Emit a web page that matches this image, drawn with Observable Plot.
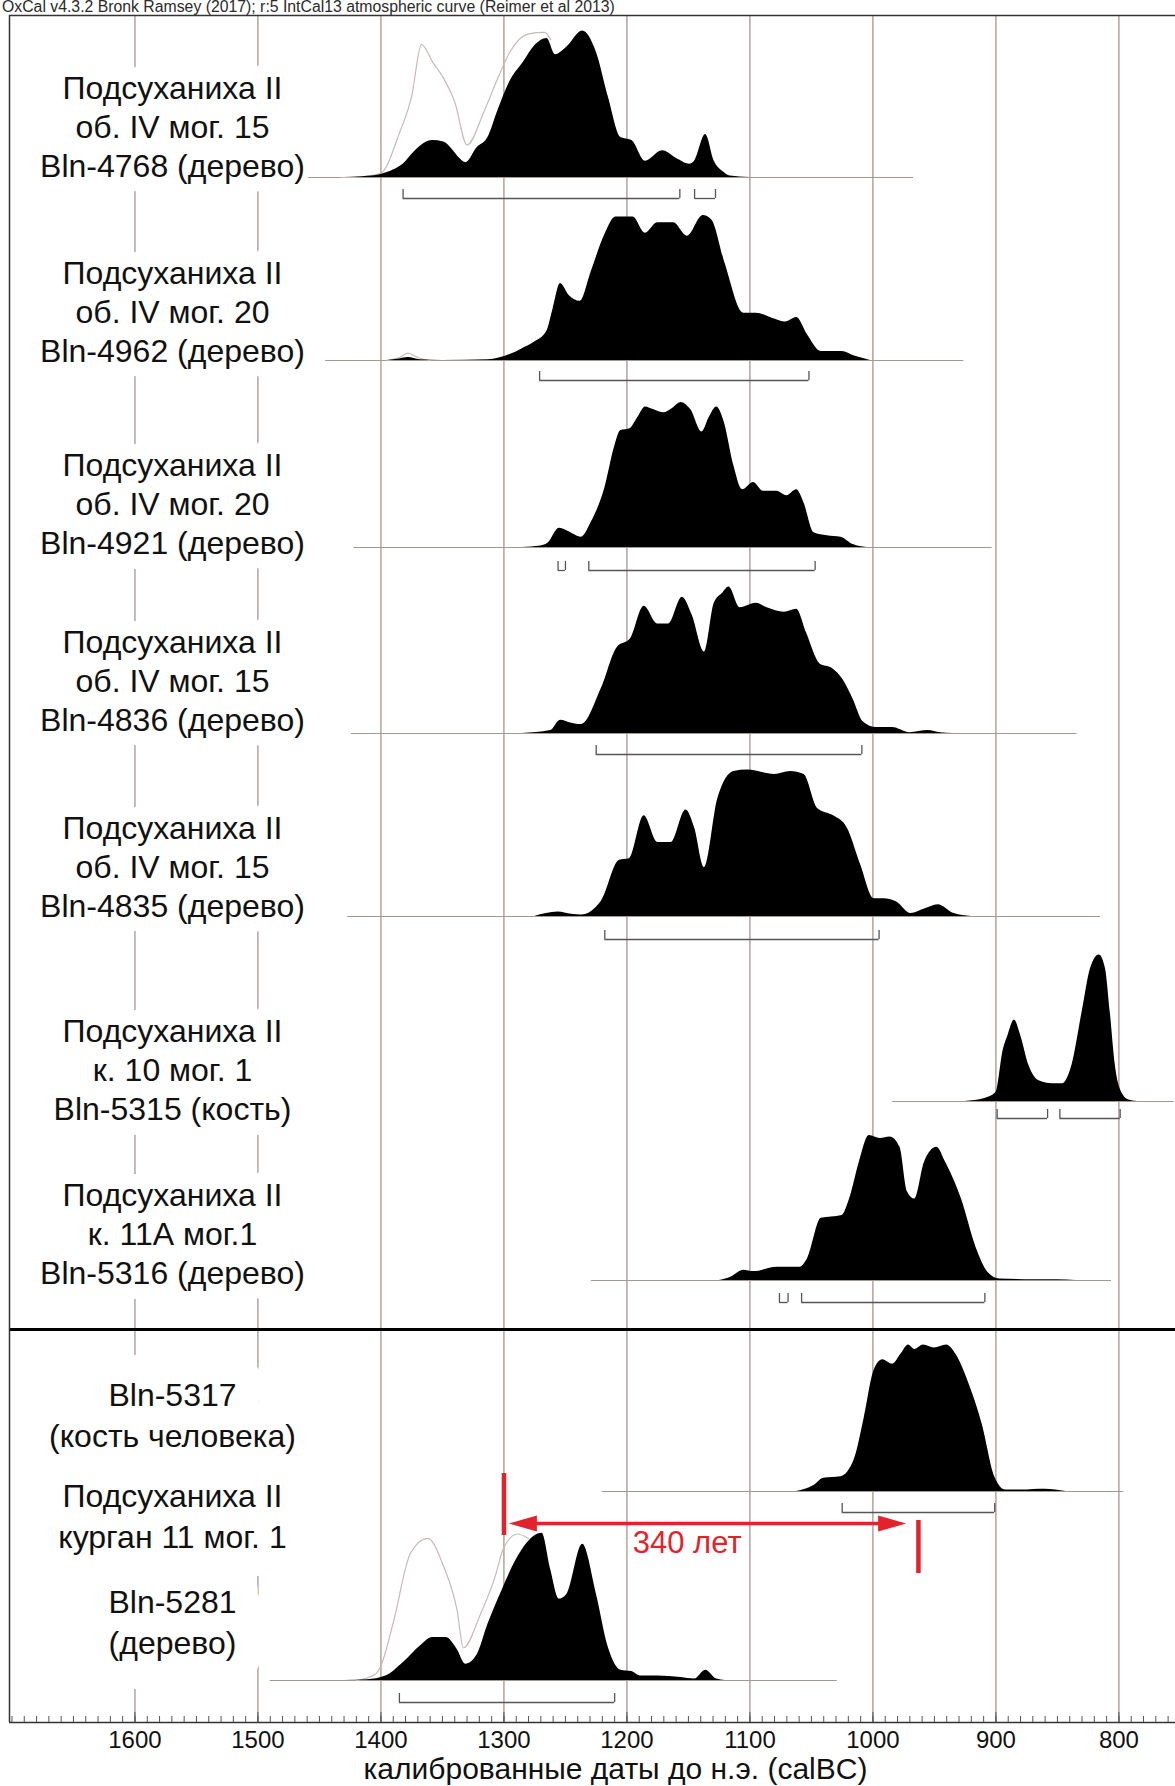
<!DOCTYPE html>
<html><head><meta charset="utf-8">
<script src="https://cdn.jsdelivr.net/npm/d3@7"></script>
<script src="https://cdn.jsdelivr.net/npm/@observablehq/plot@0.6"></script>
<style>
body{margin:0;background:#fff;font-family:"Liberation Sans",Arial,sans-serif;}
#hdr{height:14px;font-size:15.8px;line-height:13px;color:#2a2a2a;padding-left:2px;white-space:nowrap;overflow:visible;}
#chart svg{display:block;}
</style></head><body>
<div id="hdr">OxCal v4.3.2 Bronk Ramsey (2017); r:5 IntCal13 atmospheric curve (Reimer et al 2013)</div>
<div id="chart"></div>
<script>
// ---------- data (years BC, relative probability 0..1) ----------
const sampleIds = ["Bln-4768","Bln-4962","Bln-4921","Bln-4836","Bln-4835","Bln-5315","Bln-5316","Bln-5317","Bln-5281"];

const bln4768 = [[1430,0],[1415,0.005],[1400,0.02],[1390,0.05],[1382,0.09],[1372,0.18],[1365,0.23],[1358,0.25],[1349,0.24],[1342,0.19],[1336,0.13],[1331,0.10],[1322,0.20],[1313,0.27],[1305,0.45],[1295,0.65],[1284,0.78],[1275,0.89],[1265,0.94],[1258,0.83],[1249,0.88],[1236,0.99],[1225,0.85],[1215,0.54],[1205,0.27],[1196,0.25],[1185,0.11],[1171,0.18],[1160,0.13],[1149,0.09],[1145,0.11],[1136,0.29],[1129,0.11],[1122,0.04],[1116,0.01],[1100,0]];
const bln4768Unmod = [[1432,0],[1415,0.005],[1400,0.03],[1385,0.3],[1375,0.55],[1367,0.9],[1358,0.78],[1349,0.67],[1340,0.51],[1330,0.22],[1316,0.45],[1305,0.67],[1295,0.85],[1280,0.97],[1267,0.98],[1262,0.93]];
const bln4962 = [[1395,0],[1385,0.01],[1378,0.02],[1368,0.005],[1350,0],[1313,0.005],[1295,0.04],[1285,0.08],[1276,0.12],[1265,0.2],[1260,0.35],[1254,0.52],[1247,0.44],[1238,0.40],[1229,0.6],[1218,0.85],[1209,0.97],[1195,0.97],[1185,0.86],[1175,0.93],[1162,0.93],[1151,0.84],[1138,0.98],[1131,0.95],[1120,0.65],[1105,0.32],[1095,0.32],[1080,0.28],[1071,0.26],[1062,0.29],[1053,0.17],[1042,0.06],[1025,0.06],[1015,0.03],[1002,0]];
const bln4962Unmod = [[1395,0],[1385,0.02],[1378,0.05],[1370,0.02],[1360,0]];
const bln4921 = [[1285,0],[1270,0.01],[1264,0.03],[1255,0.13],[1248,0.11],[1237,0.07],[1229,0.17],[1218,0.40],[1210,0.68],[1205,0.79],[1198,0.80],[1191,0.88],[1185,0.95],[1178,0.93],[1170,0.91],[1163,0.94],[1156,0.98],[1148,0.93],[1139,0.78],[1133,0.88],[1127,0.95],[1121,0.85],[1113,0.55],[1106,0.39],[1097,0.44],[1089,0.38],[1078,0.38],[1070,0.35],[1062,0.39],[1056,0.30],[1048,0.10],[1037,0.08],[1026,0.07],[1016,0.02],[1005,0]];
const bln4836 = [[1285,0],[1262,0.02],[1254,0.09],[1245,0.07],[1237,0.06],[1221,0.30],[1208,0.58],[1197,0.64],[1186,0.86],[1175,0.74],[1166,0.74],[1155,0.92],[1147,0.80],[1137,0.55],[1129,0.88],[1122,0.95],[1117,0.99],[1108,0.85],[1095,0.88],[1086,0.85],[1072,0.82],[1062,0.84],[1054,0.68],[1043,0.47],[1033,0.44],[1024,0.36],[1016,0.23],[1008,0.08],[997,0.04],[984,0.04],[970,0.005],[955,0.02],[945,0.005],[935,0]];
const bln4835 = [[1275,0],[1256,0.03],[1245,0.015],[1237,0.01],[1221,0.10],[1206,0.38],[1198,0.39],[1186,0.68],[1175,0.50],[1164,0.50],[1152,0.72],[1145,0.60],[1137,0.33],[1126,0.80],[1113,0.98],[1102,0.99],[1080,0.96],[1067,0.98],[1056,0.96],[1045,0.73],[1032,0.68],[1021,0.60],[1010,0.35],[999,0.12],[991,0.12],[981,0.10],[969,0.02],[958,0.05],[947,0.08],[934,0.02],[920,0]];
const bln5315 = [[925,0],[909,0.02],[900,0.06],[894,0.35],[890,0.45],[885,0.55],[880,0.45],[873,0.24],[865,0.14],[854,0.12],[846,0.12],[838,0.25],[830,0.60],[823,0.90],[816,0.99],[811,0.90],[807,0.60],[803,0.25],[797,0.05],[792,0.01],[785,0]];
const bln5316 = [[1125,0],[1116,0.02],[1105,0.07],[1097,0.06],[1078,0.09],[1059,0.09],[1053,0.15],[1042,0.42],[1025,0.44],[1019,0.55],[1011,0.80],[1003,0.98],[994,0.96],[986,0.97],[978,0.9],[972,0.6],[966,0.55],[958,0.80],[948,0.90],[941,0.80],[928,0.55],[916,0.22],[906,0.05],[897,0.01],[870,0.005],[850,0.005],[835,0]];
const bln5317 = [[1062,0],[1048,0.04],[1040,0.09],[1026,0.10],[1015,0.22],[1007,0.50],[999,0.82],[992,0.89],[984,0.86],[977,0.93],[971,0.99],[966,0.96],[959,0.99],[950,0.97],[940,0.99],[932,0.92],[922,0.73],[911,0.45],[901,0.10],[892,0.01],[879,0.01],[860,0.015],[843,0]];
const bln5281 = [[1430,0],[1411,0.005],[1396,0.03],[1382,0.12],[1367,0.24],[1358,0.29],[1347,0.29],[1338,0.21],[1331,0.11],[1322,0.17],[1313,0.38],[1302,0.60],[1291,0.80],[1280,0.94],[1269,0.995],[1262,0.75],[1255,0.55],[1249,0.58],[1236,0.92],[1225,0.59],[1215,0.22],[1205,0.07],[1196,0.06],[1189,0.03],[1175,0.03],[1156,0.02],[1145,0.01],[1136,0.07],[1127,0.01],[1120,0]];
const bln5281Unmod = [[1420,0],[1405,0.04],[1400,0.1],[1390,0.39],[1376,0.86],[1362,0.96],[1349,0.77],[1338,0.47],[1333,0.22],[1319,0.45],[1308,0.68],[1300,0.9],[1289,0.99],[1280,0.96]];

// 95.4% ranges (from, to) per sample
const ranges = [
  [[1382,1157],[1145,1128]],
  [[1271,1052]],
  [[1256,1250],[1231,1047]],
  [[1225,1009]],
  [[1218,995]],
  [[899,858],[848,799]],
  [[1076,1069],[1058,909]],
  [[1025,901]],
  [[1385,1210]]
];
// extent of each plotted row (years)
const rowExtent = [[1459,967],[1445,926],[1422,903],[1424,834],[1427,815],[984,755],[1229,806],[1220,796],[1490,1029]];

const labelTexts = [
  "Подсуханиха II\nоб. IV мог. 15\nBln-4768 (дерево)",
  "Подсуханиха II\nоб. IV мог. 20\nBln-4962 (дерево)",
  "Подсуханиха II\nоб. IV мог. 20\nBln-4921 (дерево)",
  "Подсуханиха II\nоб. IV мог. 15\nBln-4836 (дерево)",
  "Подсуханиха II\nоб. IV мог. 15\nBln-4835 (дерево)",
  "Подсуханиха II\nк. 10 мог. 1\nBln-5315 (кость)",
  "Подсуханиха II\nк. 11А мог.1\nBln-5316 (дерево)"
];
const lowerTexts = ["Bln-5317\n(кость человека)", "Подсуханиха II\nкурган 11 мог. 1", "Bln-5281\n(дерево)"];

const gridYears = d3.range(1600, 799, -100);
const labelYears = d3.range(800, 1601, 100);
const minorYears = d3.range(760, 1701, 10);
const span = {from: 1300, to: 963, tipFrom: 1296, tipTo: 973, mid: 1151, text: "340 лет"};
const xTitle = "калиброванные даты до н.э. (calBC)";

// ---------- layout (pixels) ----------
const peak = 148;
const baseV = [162,345,532,718,901,1086,1265,1476,1665];
const bracketOff = [21,20,23,21,23,17,22,21,22];
const labelV = [110,295,487,664,850,1053,1217];
const lowerV = [1398,1499,1605];
const sepV = 1314;
const red = "#e3232b";

const dens = [bln4768,bln4962,bln4921,bln4836,bln4835,bln5315,bln5316,bln5317,bln5281];
const areaData = dens.flatMap((arr,i) => arr.map(([year,p]) => ({row:i, year, p})));
const unmod = [[0,bln4768Unmod],[1,bln4962Unmod],[8,bln5281Unmod]];
const unmodData = unmod.flatMap(([i,arr]) => arr.map(([year,p]) => ({row:i, year, p})));
const extentData = rowExtent.map(([a,b],i) => ({row:i, a, b}));
const rangeData = ranges.flatMap((rs,i) => rs.map(([a,b]) => ({row:i, a, b})));
const rangeEnds = rangeData.flatMap(d => [{row:d.row, year:d.a}, {row:d.row, year:d.b}]);
const labelData = labelTexts.map((t,i) => ({t, v: labelV[i]}));
const lowerData = lowerTexts.map((t,i) => ({t, v: lowerV[i]}));

const leftHead = {draw(ctx){ ctx.moveTo(0,0); ctx.lineTo(28,-8); ctx.lineTo(28,8); ctx.closePath(); }};
const rightHead = {draw(ctx){ ctx.moveTo(0,0); ctx.lineTo(-28,-8); ctx.lineTo(-28,8); ctx.closePath(); }};
const arrowV = 1508;

const labelBase = {frameAnchor: "left", dx: 163, y: "v", text: "t", fontSize: 32, textAnchor: "middle"};

const plot = Plot.plot({
  width: 1175, height: 1772,
  marginTop: 1, marginBottom: 64, marginLeft: 9, marginRight: 0,
  style: {fontFamily: "'Liberation Sans', Arial, sans-serif", background: "white", color: "#111"},
  x: {domain: [1702, 754], range: [9, 1175], label: null},
  y: {domain: [0, 1707], range: [1, 1708], axis: null},
  marks: [
    Plot.ruleX(gridYears, {stroke: "#86776f", strokeWidth: 1}),
    // white backing behind the labels (covers the grid lines), then the labels themselves
    Plot.text(labelData, {...labelBase, lineHeight: 1.21, fill: "white", stroke: "white", strokeWidth: 30, strokeLinejoin: "round"}),
    Plot.text(lowerData, {...labelBase, lineHeight: 1.26, fill: "white", stroke: "white", strokeWidth: 56, strokeLinejoin: "round"}),
    Plot.text(labelData, {...labelBase, lineHeight: 1.21, fill: "#111"}),
    Plot.text(lowerData, {...labelBase, lineHeight: 1.26, fill: "#111"}),
    Plot.ruleY(extentData, {y: d => baseV[d.row], x1: "a", x2: "b", stroke: "#a49893", strokeWidth: 1}),
    Plot.line(unmodData, {x: "year", y: d => baseV[d.row] - d.p * peak, z: "row", stroke: "#c6bab6", strokeWidth: 1.2, curve: "monotone-x"}),
    Plot.areaY(areaData, {x: "year", y1: d => baseV[d.row], y2: d => baseV[d.row] - d.p * peak, z: "row", fill: "#000", curve: "monotone-x"}),
    Plot.ruleY(rangeData, {y: d => baseV[d.row] + bracketOff[d.row], x1: "a", x2: "b", stroke: "#555", strokeWidth: 1.3}),
    Plot.ruleX(rangeEnds, {x: "year", y1: d => baseV[d.row] + bracketOff[d.row] - 9, y2: d => baseV[d.row] + bracketOff[d.row], stroke: "#555", strokeWidth: 1.3}),
    Plot.ruleY([sepV], {stroke: "#000", strokeWidth: 3}),
    Plot.ruleY([0], {stroke: "#333", strokeWidth: 1.5}),
    Plot.ruleY([1707], {stroke: "#333", strokeWidth: 1.5}),
    Plot.ruleX([1702], {stroke: "#333", strokeWidth: 1.5}),
    Plot.axisX(minorYears, {tickSize: -6, tickFormat: () => "", label: null, stroke: "#555"}),
    Plot.axisX(labelYears, {tickSize: -10, tickPadding: 18, tickFormat: d => `${d}`, fontSize: 24, label: null, stroke: "#555", fill: "#111"}),
    Plot.text([xTitle], {frameAnchor: "bottom", lineAnchor: "middle", dx: 23, dy: 47, text: d => d, fontSize: 30, fill: "#111"}),
    // red annotation
    Plot.ruleX([span], {x: "from", y1: () => 1458, y2: () => 1520, stroke: red, strokeWidth: 4.5}),
    Plot.ruleX([span], {x: "to", y1: () => 1505, y2: () => 1558, stroke: red, strokeWidth: 4.5}),
    Plot.ruleY([span], {y: () => arrowV, x1: d => d.tipFrom - 15, x2: d => d.tipTo + 15, stroke: red, strokeWidth: 3.5}),
    Plot.dot([span], {x: "tipFrom", y: () => arrowV, symbol: leftHead, fill: red, stroke: "none"}),
    Plot.dot([span], {x: "tipTo", y: () => arrowV, symbol: rightHead, fill: red, stroke: "none"}),
    Plot.text([span], {x: "mid", y: () => 1528, text: "text", fontSize: 31, fill: red})
  ]
});
document.getElementById("chart").append(plot);
</script></body></html>
